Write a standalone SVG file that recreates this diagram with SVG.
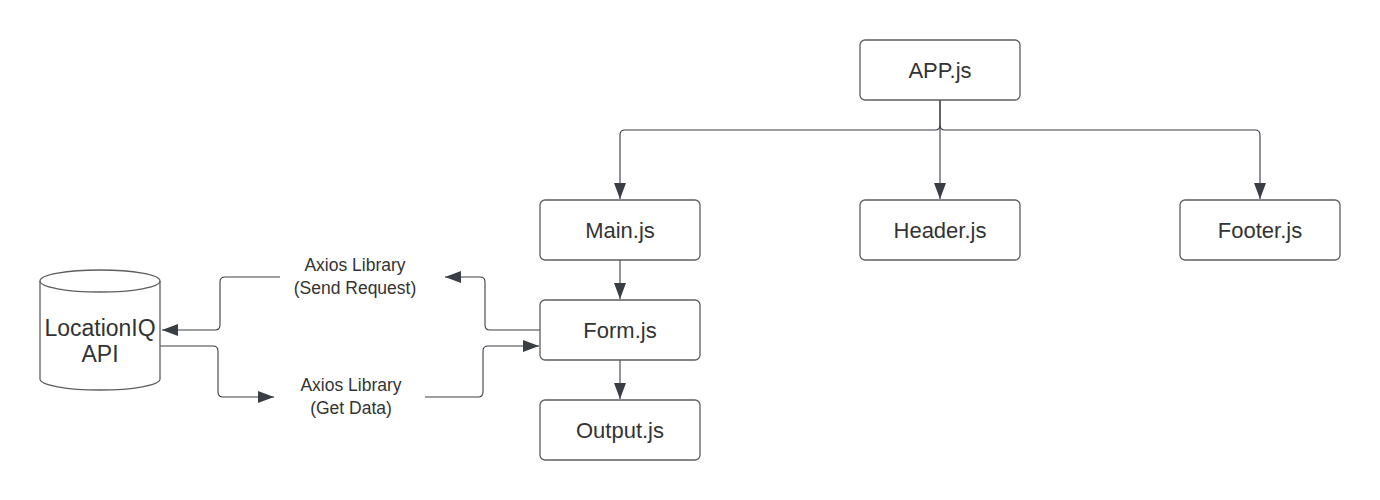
<svg xmlns="http://www.w3.org/2000/svg" width="1380" height="500" viewBox="0 0 1380 500">
<style>
.box{fill:#ffffff;stroke:#5e5e5e;stroke-width:1.3}
.t{font-family:"Liberation Sans",Arial,sans-serif;font-size:22px;fill:#333333;text-anchor:middle}
.tc{font-family:"Liberation Sans",Arial,sans-serif;font-size:23px;fill:#333333;text-anchor:middle}
.l{font-family:"Liberation Sans",Arial,sans-serif;font-size:17.5px;fill:#333333;text-anchor:middle}
.c{fill:none;stroke:#3a3e45;stroke-width:1.1}
</style>
<defs>
<marker id="ah" viewBox="0 0 16 12" refX="16" refY="6" markerWidth="16" markerHeight="12" markerUnits="userSpaceOnUse" orient="auto">
<path d="M0,0 L16,6 L0,12 Z" fill="#3a3e45"/>
</marker>
</defs>
<rect width="1380" height="500" fill="#ffffff"/>
<g id="connectors">
<path class="c" d="M940,100 V125 Q940,130 935,130 H625 Q620,130 620,135 V199" marker-end="url(#ah)"/>
<path class="c" d="M940,100 V199" marker-end="url(#ah)"/>
<path class="c" d="M940,125 Q940,130 945,130 H1255 Q1260,130 1260,135 V199" marker-end="url(#ah)"/>
<path class="c" d="M620,260 V299" marker-end="url(#ah)"/>
<path class="c" d="M620,360 V399" marker-end="url(#ah)"/>
<path class="c" d="M540,330 H490 Q485,330 485,325 V282 Q485,277 480,277 H445" marker-end="url(#ah)"/>
<path class="c" d="M280,277 H225 Q220,277 220,282 V325 Q220,330 215,330 H162" marker-end="url(#ah)"/>
<path class="c" d="M160,346 H213 Q218,346 218,351 V392 Q218,397 223,397 H274" marker-end="url(#ah)"/>
<path class="c" d="M425,397 H478 Q483,397 483,392 V351 Q483,346 488,346 H539" marker-end="url(#ah)"/>
</g>
<g id="app"><rect class="box" x="860" y="40" width="160" height="60" rx="5"/><text class="t" x="940" y="78">APP.js</text></g>
<g id="main"><rect class="box" x="540" y="200" width="160" height="60" rx="5"/><text class="t" x="620" y="238">Main.js</text></g>
<g id="header"><rect class="box" x="860" y="200" width="160" height="60" rx="5"/><text class="t" x="940" y="238">Header.js</text></g>
<g id="footer"><rect class="box" x="1180" y="200" width="160" height="60" rx="5"/><text class="t" x="1260" y="238">Footer.js</text></g>
<g id="form"><rect class="box" x="540" y="300" width="160" height="60" rx="5"/><text class="t" x="620" y="338">Form.js</text></g>
<g id="output"><rect class="box" x="540" y="400" width="160" height="60" rx="5"/><text class="t" x="620" y="438">Output.js</text></g>
<g id="locationiq">
<path class="box" d="M40,281 A60,11 0 0 1 160,281 V379 A60,11 0 0 1 40,379 Z"/>
<path class="box" fill="none" d="M40,281 A60,11 0 0 0 160,281"/>
<text class="tc" x="100" y="336">LocationIQ</text>
<text class="tc" x="100" y="362">API</text>
</g>
<g id="label-send"><text class="l" x="355" y="271">Axios Library</text><text class="l" x="355" y="294">(Send Request)</text></g>
<g id="label-get"><text class="l" x="351" y="391">Axios Library</text><text class="l" x="351" y="414">(Get Data)</text></g>
</svg>
